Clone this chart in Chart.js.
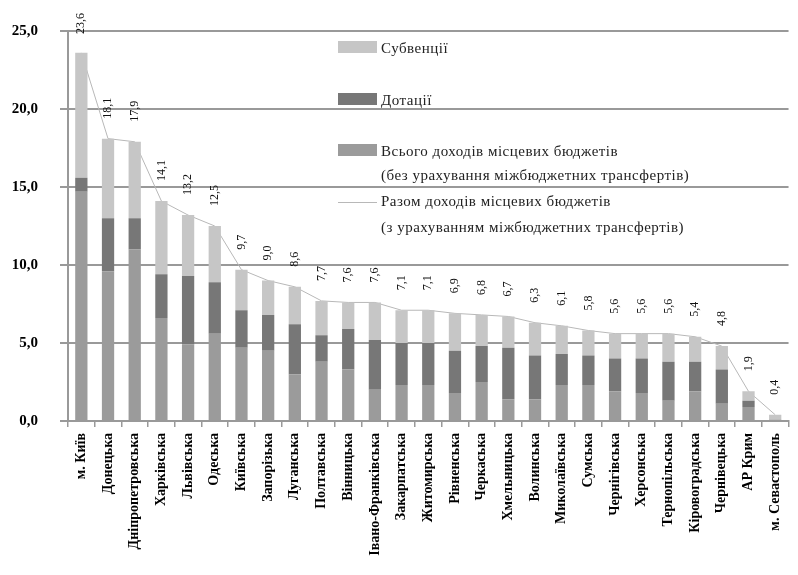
<!DOCTYPE html>
<html lang="uk">
<head>
<meta charset="utf-8">
<title>Доходи місцевих бюджетів</title>
<script src="https://cdn.jsdelivr.net/npm/chart.js@4.4.0/dist/chart.umd.min.js"></script>
<style>
  html, body { margin: 0; padding: 0; background: #fff; }
  #wrap { position: relative; width: 798px; height: 575px; }
</style>
</head>
<body>
<div id="wrap"><canvas id="revenueChart"></canvas></div>
<script>
// ---- data ----
const regions = [
    'м. Київ', 'Донецька', 'Дніпропетровська', 'Харківська', 'Львівська', 'Одеська',
    'Київська', 'Запорізька', 'Луганська', 'Полтавська', 'Вінницька', 'Івано-Франківська',
    'Закарпатська', 'Житомирська', 'Рівненська', 'Черкаська', 'Хмельницька', 'Волинська',
    'Миколаївська', 'Сумська', 'Чернігівська', 'Херсонська', 'Тернопільська', 'Кіровоградська',
    'Чернівецька', 'АР Крим', 'м. Севастополь'
];

// own revenues, without inter-budget transfers
const ownRevenue = [14.7, 9.6, 11.0, 6.6, 4.9, 5.6, 4.7, 4.5, 3.0, 3.8, 3.3, 2.0, 2.3, 2.3,
    1.8, 2.5, 1.4, 1.4, 2.3, 2.3, 1.9, 1.8, 1.3, 1.9, 1.1, 0.9, 0.1];
const dotations = [0.9, 3.4, 2.0, 2.8, 4.4, 3.3, 2.4, 2.3, 3.2, 1.7, 2.6, 3.2, 2.7, 2.7,
    2.7, 2.3, 3.3, 2.8, 2.0, 1.9, 2.1, 2.2, 2.5, 1.9, 2.2, 0.4, 0.0];
const subventions = [8.0, 5.1, 4.9, 4.7, 3.9, 3.6, 2.6, 2.2, 2.4, 2.2, 1.7, 2.4, 2.1, 2.1,
    2.4, 2.0, 2.0, 2.1, 1.8, 1.6, 1.6, 1.6, 1.8, 1.6, 1.5, 0.6, 0.3];
// total revenues, including transfers
const totalRevenue = [23.6, 18.1, 17.9, 14.1, 13.2, 12.5, 9.7, 9.0, 8.6, 7.7, 7.6, 7.6, 7.1, 7.1,
    6.9, 6.8, 6.7, 6.3, 6.1, 5.8, 5.6, 5.6, 5.6, 5.4, 4.8, 1.9, 0.4];

const yTicks = [0, 5, 10, 15, 20, 25];

// ---- styles ----
const COLOR_OWN = '#9b9b9b';
const COLOR_DOT = '#777777';
const COLOR_SUB = '#c6c6c6';
const COLOR_LINE = '#b8b8b8';
const COLOR_GRID = '#999999';
const SERIF = '"Liberation Serif", "Times New Roman", serif';

const fmt = v => v.toFixed(1).replace('.', ',');

// value labels above the total line, rotated
const valueLabels = {
    id: 'valueLabels',
    afterDatasetsDraw(chart) {
        const meta = chart.getDatasetMeta(3);
        const ctx = chart.ctx;
        ctx.save();
        ctx.font = '12px ' + SERIF;
        ctx.fillStyle = '#111';
        ctx.textAlign = 'left';
        ctx.textBaseline = 'middle';
        meta.data.forEach((pt, i) => {
            const txt = fmt(totalRevenue[i]);
            const w = ctx.measureText(txt).width;
            let y0 = pt.y - 20;
            if (y0 - w < 13) y0 = 13 + w;
            ctx.save();
            ctx.translate(pt.x, y0);
            ctx.rotate(-Math.PI / 2);
            ctx.fillText(txt, 0, 0);
            ctx.restore();
        });
        ctx.restore();
    }
};

// legend inside the plot, no background
const innerLegend = {
    id: 'innerLegend',
    afterDraw(chart) {
        const ctx = chart.ctx;
        const x = 338, sw = 39, tx = 381;
        ctx.save();
        ctx.font = '15px ' + SERIF;
        ctx.letterSpacing = '0.5px';
        ctx.fillStyle = '#222';
        ctx.textBaseline = 'middle';

        const items = [
            { color: COLOR_SUB, y: 47, lines: ['Субвенції'] },
            { color: COLOR_DOT, y: 99, lines: ['Дотації'] },
            { color: COLOR_OWN, y: 150, lines: ['Всього доходів місцевих бюджетів',
                '(без урахування міжбюджетних трансфертів)'] }
        ];
        items.forEach(it => {
            ctx.fillStyle = it.color;
            ctx.fillRect(x, it.y - 6, sw, 12);
            ctx.fillStyle = '#222';
            it.lines.forEach((l, k) => ctx.fillText(l, tx, it.y + 2 + k * 24));
        });

        ctx.strokeStyle = COLOR_LINE;
        ctx.lineWidth = 1;
        ctx.beginPath();
        ctx.moveTo(x, 202.5);
        ctx.lineTo(x + sw, 202.5);
        ctx.stroke();
        ctx.fillText('Разом доходів місцевих бюджетів', tx, 202);
        ctx.fillText('(з урахуванням міжбюджетних трансфертів)', tx, 228);
        ctx.restore();
    }
};

new Chart(document.getElementById('revenueChart'), {
    type: 'bar',
    data: {
        labels: regions,
        datasets: [
            { label: 'Всього доходів місцевих бюджетів', data: ownRevenue,
              backgroundColor: COLOR_OWN, stack: 'bars', order: 1 },
            { label: 'Дотації', data: dotations,
              backgroundColor: COLOR_DOT, stack: 'bars', order: 1 },
            { label: 'Субвенції', data: subventions,
              backgroundColor: COLOR_SUB, stack: 'bars', order: 1 },
            { type: 'line', label: 'Разом доходів місцевих бюджетів', data: totalRevenue,
              borderColor: COLOR_LINE, borderWidth: 1, pointRadius: 0, tension: 0,
              stack: 'total', order: 2 }
        ]
    },
    options: {
        responsive: true,
        maintainAspectRatio: false,
        animation: false,
        layout: { padding: { top: 31, left: 6, right: 0, bottom: 0 } },
        datasets: { bar: { barPercentage: 0.46, categoryPercentage: 1 } },
        plugins: {
            legend: { display: false },
            tooltip: { enabled: false }
        },
        scales: {
            x: {
                stacked: true,
                grid: { offset: true, drawOnChartArea: false, color: COLOR_GRID, tickLength: 6, lineWidth: 1.5 },
                border: { color: COLOR_GRID, width: 2 },
                ticks: {
                    autoSkip: false, minRotation: 90, maxRotation: 90, padding: 6,
                    color: '#000',
                    font: { family: SERIF, weight: 'bold', size: 14 }
                },
                afterFit: s => { s.height = 154; }
            },
            y: {
                stacked: true,
                min: 0, max: 25,
                afterBuildTicks: s => { s.ticks = yTicks.map(v => ({ value: v })); },
                ticks: {
                    callback: v => fmt(v), padding: 22, color: '#000',
                    font: { family: SERIF, weight: 'bold', size: 15 }
                },
                grid: { color: COLOR_GRID, lineWidth: 2, tickLength: 8 },
                border: { color: COLOR_GRID, width: 2 },
                afterFit: s => { s.width = 62; }
            }
        }
    },
    plugins: [valueLabels, innerLegend]
});
</script>
</body>
</html>
